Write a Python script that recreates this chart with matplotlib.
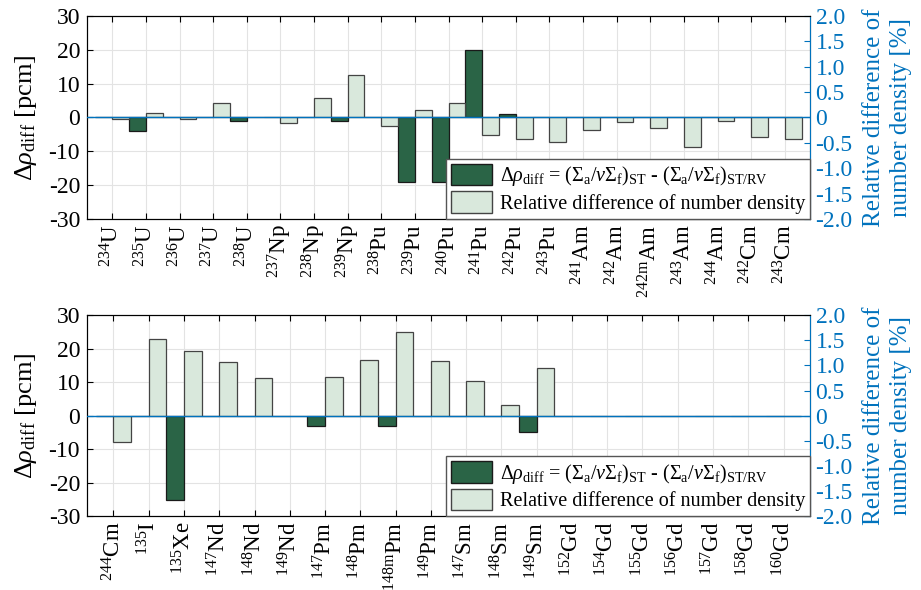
import matplotlib.pyplot as plt
from matplotlib.patches import Patch
import numpy as np

plt.rcParams['font.family'] = ['Liberation Serif', 'DejaVu Serif']
plt.rcParams['mathtext.fontset'] = 'custom'
plt.rcParams['mathtext.rm'] = 'Liberation Serif'
plt.rcParams['mathtext.it'] = 'Liberation Serif:italic'
plt.rcParams['mathtext.bf'] = 'Liberation Serif:bold'
plt.rcParams['axes.unicode_minus'] = False

# ---- datos panel superior ----
top_mass = ['234', '235', '236', '237', '238', '237', '238', '239', '238', '239', '240',
            '241', '242', '243', '241', '242', '242m', '243', '244', '242', '243']
top_elem = ['U', 'U', 'U', 'U', 'U', 'Np', 'Np', 'Np', 'Pu', 'Pu', 'Pu',
            'Pu', 'Pu', 'Pu', 'Am', 'Am', 'Am', 'Am', 'Am', 'Cm', 'Cm']
top_drho = [0.0, -4.0, 0.0, 0.0, -1.1, 0.0, 0.0, -1.1, 0.0, -19.1, -19.1,
            20.0, 0.9, 0.0, 0.0, 0.0, 0.0, 0.0, 0.0, 0.0, 0.0]
top_reldens = [-0.03, 0.09, -0.04, 0.28, 0.0, -0.12, 0.38, 0.84, -0.16, 0.14, 0.28,
               -0.35, -0.43, -0.48, -0.24, -0.10, -0.20, -0.58, -0.07, -0.39, -0.42]

# ---- datos panel inferior ----
bot_mass = ['244', '135', '135', '147', '148', '149', '147', '148', '148m', '149',
            '147', '148', '149', '152', '154', '155', '156', '157', '158', '160']
bot_elem = ['Cm', 'I', 'Xe', 'Nd', 'Nd', 'Nd', 'Pm', 'Pm', 'Pm', 'Pm',
            'Sm', 'Sm', 'Sm', 'Gd', 'Gd', 'Gd', 'Gd', 'Gd', 'Gd', 'Gd']
bot_drho = [0.0, 0.0, -25.1, 0.0, 0.0, 0.0, -3.1, 0.0, -3.1, 0.0,
            0.0, 0.0, -5.0, 0.0, 0.0, 0.0, 0.0, 0.0, 0.0, 0.0]
bot_reldens = [-0.53, 1.52, 1.28, 1.07, 0.74, 0.0, 0.77, 1.11, 1.66, 1.08,
               0.69, 0.22, 0.94, 0.0, 0.0, 0.0, 0.0, 0.0, 0.0, 0.0]

# ---- estilo ----
darkGreen  = '#2a6446'
lightGreen = '#d9e8dc'
blue       = '#0072bd'
fsTick     = 17
fsXTick    = 16.5
fsLegend   = 14.5
fsLabel    = 19

legendDrho = (r'$\Delta\rho_{\mathrm{diff}}$ = ($\Sigma_{\mathrm{a}}/\nu\Sigma_{\mathrm{f}}$)$_{\mathrm{ST}}$'
              r' - ($\Sigma_{\mathrm{a}}/\nu\Sigma_{\mathrm{f}}$)$_{\mathrm{ST/RV}}$')
legendDens = 'Relative difference of number density'


def panel(fig, rect, mass, elem, drho, reldens):
    ax = fig.add_axes(rect)
    x = np.arange(1, len(mass) + 1)
    ax.bar(x - 0.25, drho, width=0.5, color=darkGreen, edgecolor='#1a1a1a', linewidth=0.9, zorder=2)
    ax.set_xlim(0.25, len(mass) + 0.75)
    ax.set_ylim(-30, 30)
    ax.set_yticks(np.arange(-30, 31, 10))
    ax.set_xticks(x)
    ax.set_xticklabels([r'$^{\mathrm{%s}}$%s' % (m, e) for m, e in zip(mass, elem)],
                       rotation=90, fontsize=fsXTick)
    ax.tick_params(axis='x', direction='in', top=True, length=4, pad=4)
    ax.tick_params(axis='y', direction='in', length=4, labelsize=fsTick, pad=5)
    ax.grid(True, color='#e3e3e3', linewidth=0.8, zorder=0)
    ax.set_axisbelow(True)
    ax.set_ylabel(r'$\Delta\rho_{\mathrm{diff}}$ [pcm]', fontsize=fsLabel, labelpad=7)

    ax2 = ax.twinx()
    ax2.bar(x + 0.25, reldens, width=0.5, color=lightGreen, edgecolor='#444444', linewidth=0.9, zorder=2)
    ax2.axhline(0, color=blue, linewidth=1.0, zorder=3)
    ax2.set_ylim(-2, 2)
    ax2.set_yticks(np.arange(-2, 2.01, 0.5))
    ax2.set_yticklabels(['-2.0', '-1.5', '-1.0', '-0.5', '0', '0.5', '1.0', '1.5', '2.0'])
    ax2.tick_params(axis='y', direction='in', length=4, colors=blue, labelsize=fsTick, pad=4)
    ax2.spines['right'].set_color(blue)
    ax2.set_ylabel('Relative difference of\nnumber density [%]', color=blue,
                   fontsize=fsLabel - 1, linespacing=1.3, labelpad=7)

    handles = [Patch(facecolor=darkGreen, edgecolor='#1a1a1a'),
               Patch(facecolor=lightGreen, edgecolor='#444444')]
    leg = ax2.legend(handles, [legendDrho, legendDens], loc='lower right',
                     fontsize=fsLegend, frameon=True, fancybox=False, framealpha=1,
                     edgecolor='#555555', handlelength=2.0, handleheight=1.25,
                     borderaxespad=0.0, borderpad=0.25, labelspacing=0.15, handletextpad=0.4)
    leg.get_frame().set_linewidth(1.0)
    return ax, ax2


fig = plt.figure(figsize=(9.21, 5.90), dpi=100)
panel(fig, [0.0945, 0.629, 0.785, 0.344], top_mass, top_elem, top_drho, top_reldens)
panel(fig, [0.0945, 0.125, 0.785, 0.341], bot_mass, bot_elem, bot_drho, bot_reldens)

fig.savefig('out.png', dpi=100)
